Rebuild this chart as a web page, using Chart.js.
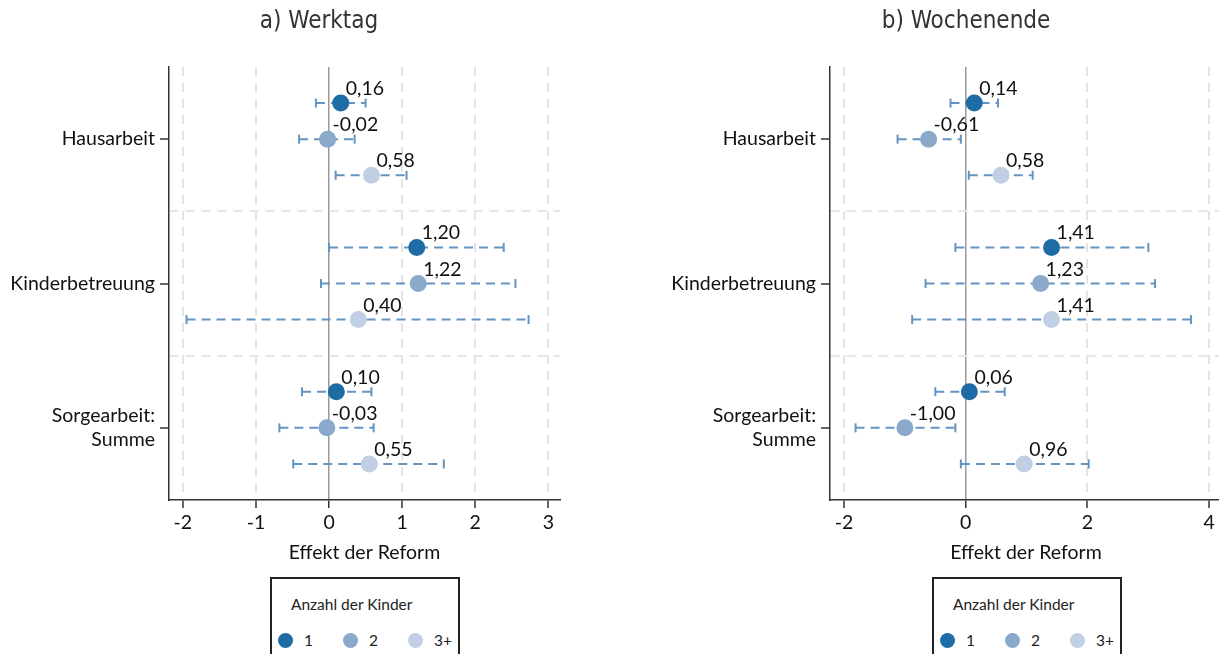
<!DOCTYPE html>
<html>
<head>
<meta charset="utf-8">
<script src="https://cdn.jsdelivr.net/npm/chart.js@4.4.0/dist/chart.umd.min.js"></script>
<style>
    body { margin: 0; width: 1219px; height: 654px; overflow: hidden; background: #fff; position: relative; font-family: Lato, sans-serif; }
    .panel { position: absolute; top: 0; height: 570px; }
    #leftPanel { left: 0; width: 600px; }
    #rightPanel { left: 600px; width: 680px; }
    .title { position: absolute; top: 6px; font-family: "DejaVu Sans Condensed", "Liberation Sans Narrow", sans-serif; font-size: 24px; color: #333; transform: translateX(-50%); white-space: nowrap; }
    .legend { position: absolute; top: 577px; width: 190px; height: 100px; border: 2px solid #222; box-sizing: border-box; background: #fff; }
    .legend .ltitle { position: absolute; left: 19px; top: 16px; font-size: 15.5px; color: #222; }
    .legend .item { position: absolute; top: 54px; font-size: 15.5px; color: #222; }
    .legend .dot { position: absolute; width: 15px; height: 15px; border-radius: 50%; left: -7px; top: 0; }
    .legend .lbl { position: absolute; left: 19px; top: -2px; }
</style>
</head>
<body>
<div class="panel" id="leftPanel"><canvas id="werktagChart"></canvas></div>
<div class="panel" id="rightPanel"><canvas id="wochenendeChart"></canvas></div>
<div class="title" style="left:319px">a) Werktag</div>
<div class="title" style="left:966px">b) Wochenende</div>
<div class="legend" id="legendLeft" style="left:270px"></div>
<div class="legend" id="legendRight" style="left:932px"></div>

<script>
const categories = ['Hausarbeit', 'Kinderbetreuung', ['Sorgearbeit:', 'Summe']];
const seriesNames = ['1', '2', '3+'];
const seriesColors = ['#1d6ca5', '#8aa9cb', '#c0cfe4'];
const ciColor = '#6494c2';

// a) Werktag: estimates and confidence bounds per number of children
const werktagEst1 = [0.16, 1.20, 0.10];
const werktagEst2 = [-0.02, 1.22, -0.03];
const werktagEst3 = [0.58, 0.40, 0.55];
const werktagLo1 = [-0.18, 0.00, -0.37];
const werktagHi1 = [0.50, 2.39, 0.58];
const werktagLo2 = [-0.41, -0.11, -0.68];
const werktagHi2 = [0.35, 2.55, 0.61];
const werktagLo3 = [0.09, -1.95, -0.49];
const werktagHi3 = [1.06, 2.73, 1.57];

// b) Wochenende
const wochenendeEst1 = [0.14, 1.41, 0.06];
const wochenendeEst2 = [-0.61, 1.23, -1.00];
const wochenendeEst3 = [0.58, 1.41, 0.96];
const wochenendeLo1 = [-0.25, -0.17, -0.50];
const wochenendeHi1 = [0.53, 3.00, 0.64];
const wochenendeLo2 = [-1.12, -0.66, -1.81];
const wochenendeHi2 = [-0.08, 3.11, -0.17];
const wochenendeLo3 = [0.05, -0.88, -0.08];
const wochenendeHi3 = [1.10, 3.70, 2.02];

const werktagTicks = [-2, -1, 0, 1, 2, 3];
const wochenendeTicks = [-2, 0, 2, 4];

const FONT = 'Lato, sans-serif';
const FS = 19.5;

// each category occupies 4 slots: three rows and a separator
function rowOf(cat, s) { return cat * 4 + s; }
const groupCenters = categories.map((_, i) => rowOf(i, 1));
const separators = categories.slice(1).map((_, i) => rowOf(i, 3));
const yTickValues = groupCenters.concat(separators).sort((a, b) => a - b);

function fmt(v) {
    return v.toFixed(2).replace('.', ',');
}

const valueLabels = {
    id: 'valueLabels',
    afterDatasetsDraw(chart) {
        const ctx = chart.ctx;
        ctx.save();
        ctx.font = FS + 'px ' + FONT;
        ctx.fillStyle = '#111';
        ctx.textAlign = 'left';
        ctx.textBaseline = 'alphabetic';
        chart.data.datasets.forEach((ds, di) => {
            if (!ds.isEstimate) return;
            chart.getDatasetMeta(di).data.forEach((pt, k) => {
                ctx.fillText(fmt(ds.data[k].x), pt.x + 5, pt.y - 8);
            });
        });
        ctx.restore();
    }
};

function buildChart(canvasId, ests, los, his, xTicks, xMin, xMax, yWidth, padRight) {
    const datasets = [];

    ests.forEach((est, s) => {
        est.forEach((_, c) => {
            datasets.push({
                data: [{ x: los[s][c], y: rowOf(c, s) }, { x: his[s][c], y: rowOf(c, s) }],
                showLine: true,
                borderColor: ciColor,
                borderWidth: 2,
                borderDash: [9, 6],
                pointStyle: 'line',
                pointRotation: 90,
                pointRadius: 4.5,
                pointBorderColor: ciColor,
                pointBorderWidth: 2,
                order: 2
            });
        });
    });

    ests.forEach((est, s) => {
        datasets.push({
            isEstimate: true,
            data: est.map((v, c) => ({ x: v, y: rowOf(c, s) })),
            backgroundColor: seriesColors[s],
            pointRadius: 8.5,
            pointBorderWidth: 0,
            order: 1
        });
    });

    return new Chart(document.getElementById(canvasId), {
        type: 'scatter',
        data: { datasets: datasets },
        options: {
            responsive: true,
            maintainAspectRatio: false,
            animation: false,
            layout: { padding: { top: 67, right: padRight, left: 0, bottom: 0 } },
            plugins: {
                legend: { display: false },
                tooltip: { enabled: false }
            },
            scales: {
                x: {
                    type: 'linear',
                    min: xMin,
                    max: xMax,
                    afterBuildTicks: scale => { scale.ticks = xTicks.map(v => ({ value: v })); },
                    afterFit: scale => { scale.height = 70; },
                    grid: {
                        color: c => (c.tick && c.tick.value === 0) ? '#9a9a9a' : '#e4e4e4',
                        lineWidth: c => (c.tick && c.tick.value === 0) ? 1.5 : 2,
                        tickColor: '#333',
                        tickLength: 8,
                        tickWidth: 1.5,
                        tickBorderDash: []
                    },
                    border: {
                        color: '#333',
                        width: 1.5,
                        dash: c => (c.tick && c.tick.value === 0) ? [] : [9, 7]
                    },
                    ticks: {
                        font: { family: FONT, size: FS },
                        color: '#111',
                        padding: 3,
                        callback: v => String(v)
                    },
                    title: {
                        display: true,
                        text: 'Effekt der Reform',
                        font: { family: FONT, size: FS },
                        color: '#111',
                        padding: { top: 0, bottom: 6 }
                    }
                },
                y: {
                    type: 'linear',
                    reverse: true,
                    min: -1,
                    max: rowOf(categories.length - 1, 3),
                    afterBuildTicks: scale => { scale.ticks = yTickValues.map(v => ({ value: v })); },
                    afterFit: scale => { scale.width = yWidth; },
                    grid: {
                        color: c => (c.tick && separators.includes(c.tick.value)) ? '#e6e6e6' : 'rgba(0,0,0,0)',
                        lineWidth: 2,
                        tickColor: c => (c.tick && groupCenters.includes(c.tick.value)) ? '#333' : 'rgba(0,0,0,0)',
                        tickLength: 9,
                        tickWidth: 1.5,
                        tickBorderDash: []
                    },
                    border: { color: '#333', width: 1.5, dash: [9, 7] },
                    ticks: {
                        autoSkip: false,
                        font: { family: FONT, size: FS },
                        color: '#111',
                        padding: 5,
                        callback: v => {
                            const idx = groupCenters.indexOf(v);
                            return idx >= 0 ? categories[idx] : '';
                        }
                    }
                }
            }
        },
        plugins: [valueLabels]
    });
}

function buildLegend(id) {
    const box = document.getElementById(id);
    box.innerHTML = '<div class="ltitle">Anzahl der Kinder</div>' + seriesNames.map((name, i) => `
        <div class="item" style="left:${13 + i * 65}px">
            <span class="dot" style="background:${seriesColors[i]}"></span>
            <span class="lbl">${name}</span>
        </div>`).join('');
}

buildChart('werktagChart',
    [werktagEst1, werktagEst2, werktagEst3],
    [werktagLo1, werktagLo2, werktagLo3],
    [werktagHi1, werktagHi2, werktagHi3],
    werktagTicks, -2.19, 3.16, 169, 40);

buildChart('wochenendeChart',
    [wochenendeEst1, wochenendeEst2, wochenendeEst3],
    [wochenendeLo1, wochenendeLo2, wochenendeLo3],
    [wochenendeHi1, wochenendeHi2, wochenendeHi3],
    wochenendeTicks, -2.23, 4.21, 230, 58);

buildLegend('legendLeft');
buildLegend('legendRight');
</script>
</body>
</html>
